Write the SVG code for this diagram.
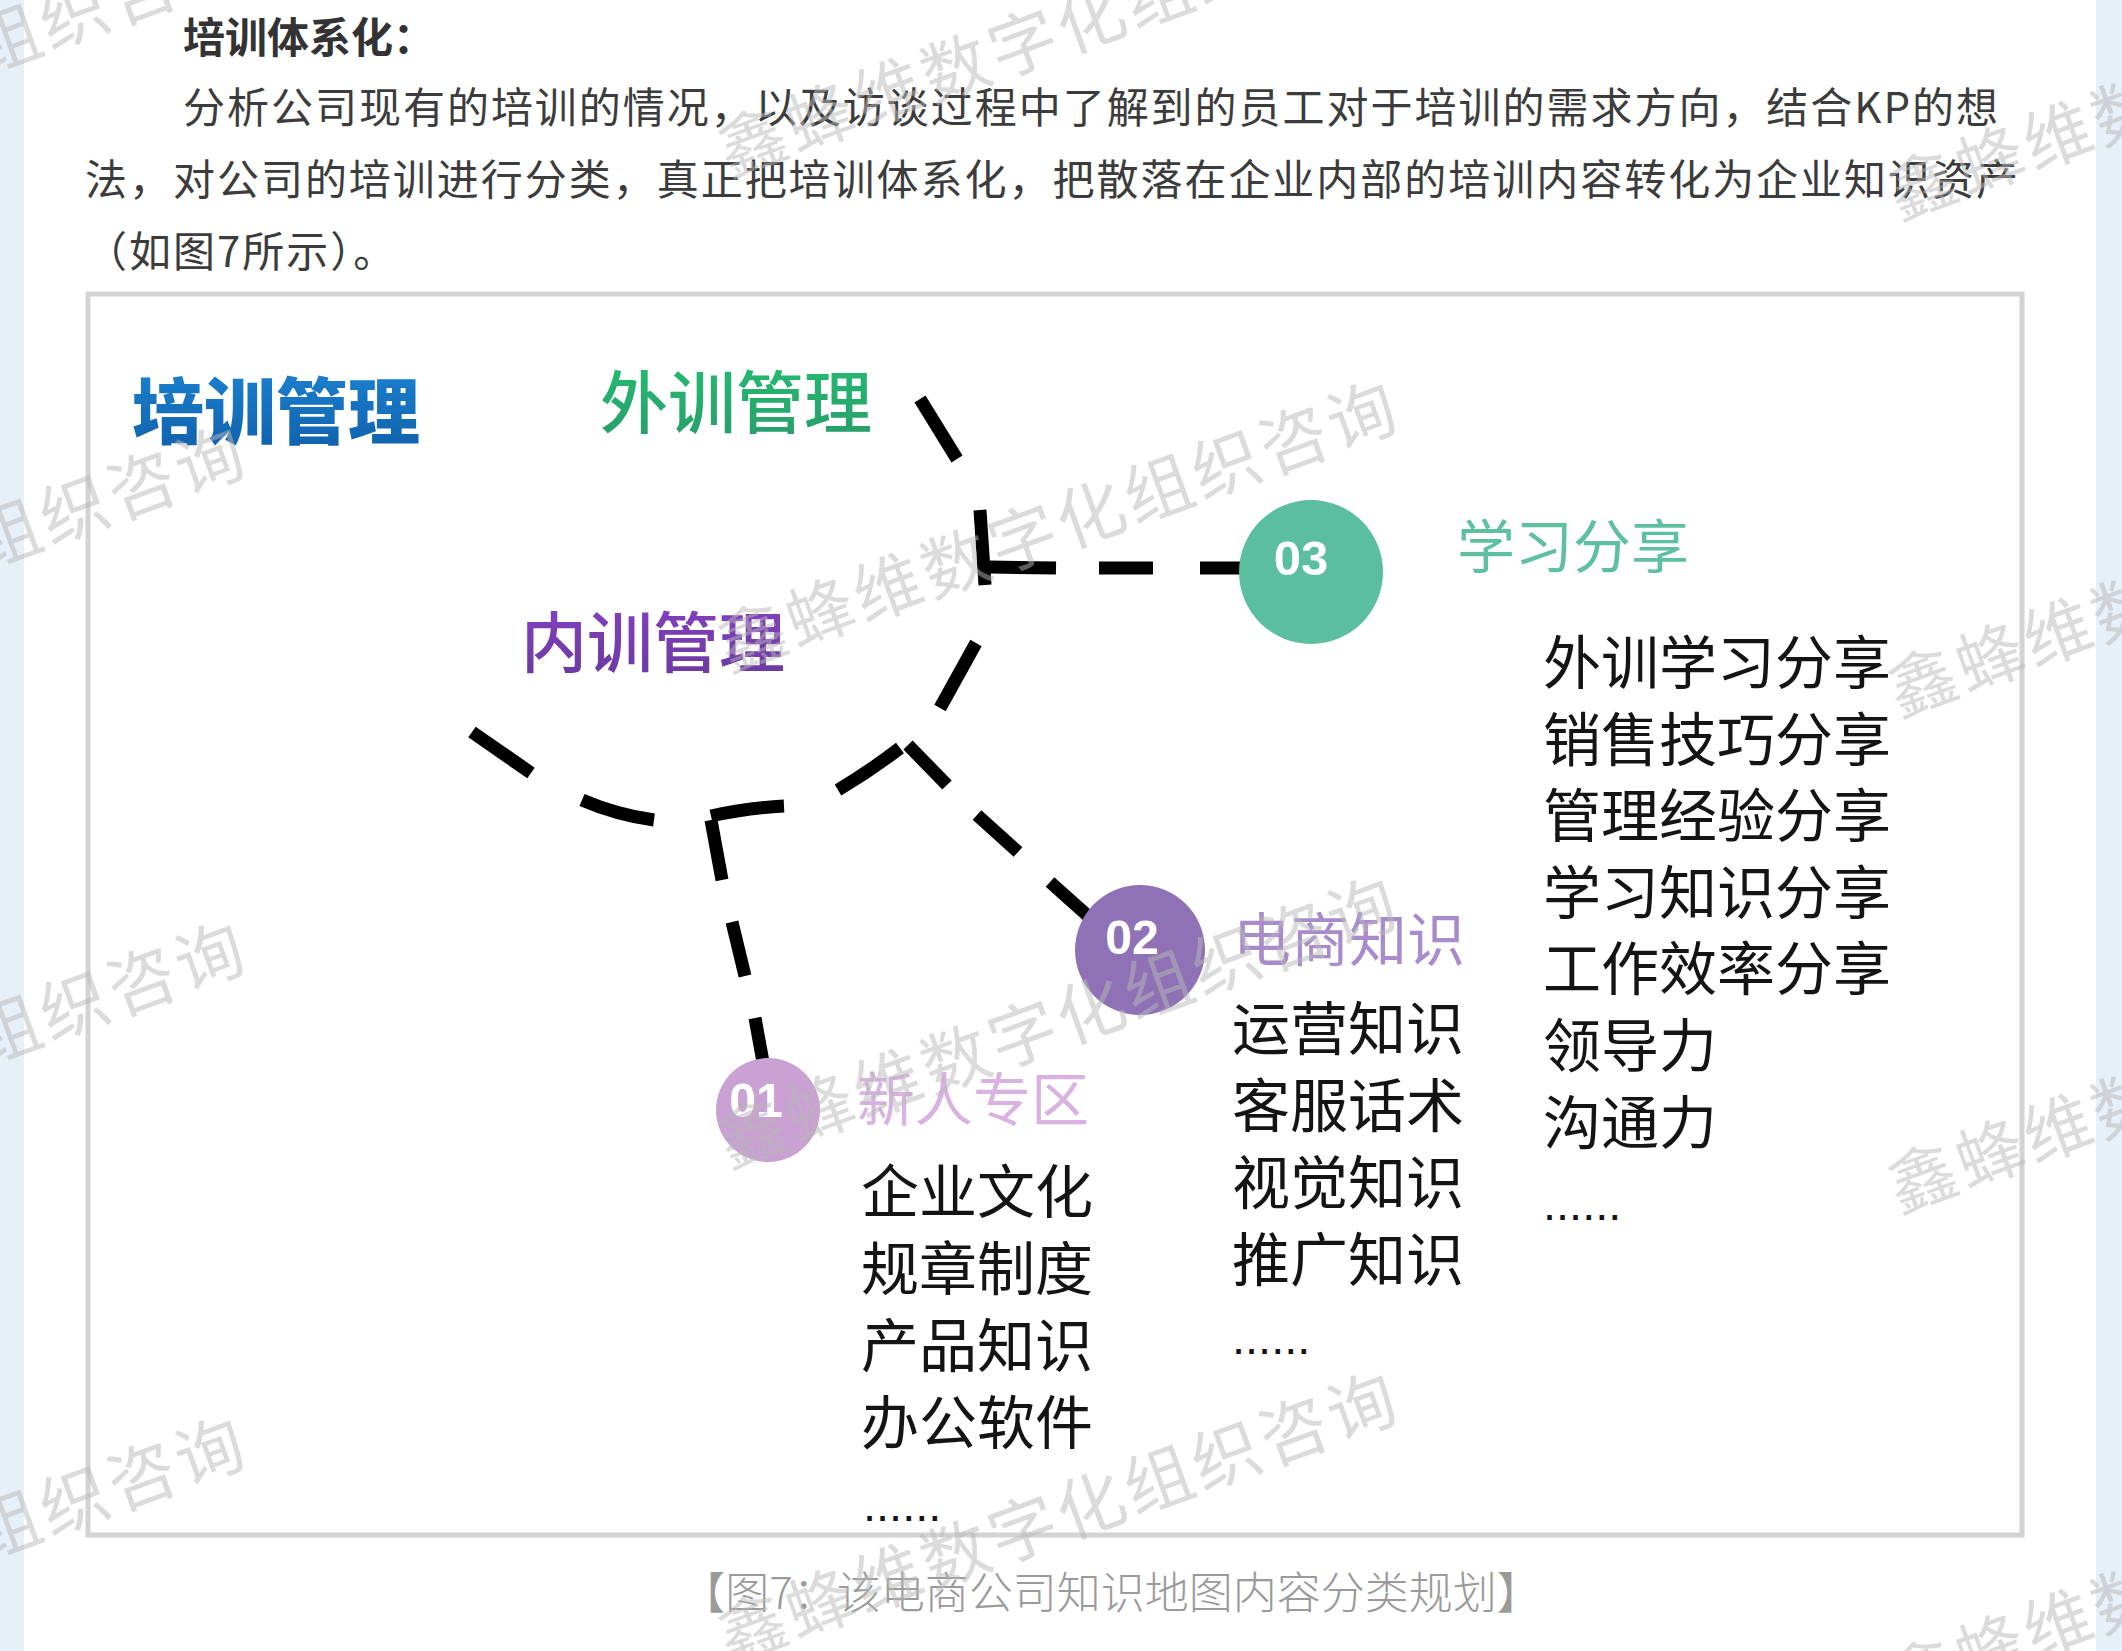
<svg xmlns="http://www.w3.org/2000/svg" width="2122" height="1651" viewBox="0 0 2122 1651">
<style>
.cjk{font-family:"Noto Sans CJK SC","Noto Sans",sans-serif}
.body{font-size:42px;fill:#3c3c3c}
.dash{fill:none;stroke:#000;stroke-width:13;stroke-linecap:butt}
.num{font-family:"Liberation Sans","DejaVu Sans",sans-serif;font-weight:700;fill:#fff;text-anchor:middle}
.item{font-size:58px;fill:#141414}
.dots{font-family:"Liberation Sans",sans-serif;font-size:47px;fill:#141414}
.wm{font-size:68px;letter-spacing:4px;fill:#b8b8b8;fill-opacity:0.5}
</style>
<defs>
<linearGradient id="gBlue" x1="0" y1="0" x2="0" y2="1"><stop offset="0" stop-color="#1d86d6"/><stop offset="1" stop-color="#0f5ea8"/></linearGradient>
<linearGradient id="gGreen" x1="0" y1="0" x2="0" y2="1"><stop offset="0" stop-color="#22c070"/><stop offset="1" stop-color="#2a9a6c"/></linearGradient>
<linearGradient id="gPurple" x1="0" y1="0" x2="0" y2="1"><stop offset="0" stop-color="#8640c4"/><stop offset="1" stop-color="#6a3a9c"/></linearGradient>
</defs>

<g id="page">
<rect x="0" y="0" width="2122" height="1651" fill="#ffffff"/>
<rect x="0" y="0" width="24" height="1651" fill="#e7eff8"/>
<rect x="2096" y="0" width="26" height="1651" fill="#e7eff8"/>
<text class="cjk" x="183" y="53" font-size="42" font-weight="700" fill="#333">培训体系化：</text>
<text class="cjk body" x="183" y="123" textLength="1815" lengthAdjust="spacing">分析公司现有的培训的情况，以及访谈过程中了解到的员工对于培训的需求方向，结合KP的想</text>
<text class="cjk body" x="85" y="195" textLength="1933" lengthAdjust="spacing">法，对公司的培训进行分类，真正把培训体系化，把散落在企业内部的培训内容转化为企业知识资产</text>
<text class="cjk body" x="85" y="267" letter-spacing="2">（如图7所示）。</text>
</g>

<g id="frame">
<rect x="88" y="294" width="1934" height="1241" fill="#ffffff" stroke="#d3d3d3" stroke-width="5"/>
</g>

<g id="connectors">
<path class="dash" d="M920,399 L957,459"/>
<path class="dash" d="M980,510 L985,585"/>
<path class="dash" d="M976,643 L940,708"/>
<path class="dash" d="M900,748 Q870,771 838,790"/>
<path class="dash" d="M784,806 Q746,808 711,816"/>
<path class="dash" d="M654,820 Q617,815 582,800"/>
<path class="dash" d="M531,773 L472,732"/>
<path class="dash" d="M990,567 L1056,568"/>
<path class="dash" d="M1099,568 L1153,568"/>
<path class="dash" d="M1200,568 L1245,568"/>
<path class="dash" d="M908,745 L947,785"/>
<path class="dash" d="M977,815 L1018,852"/>
<path class="dash" d="M1050,882 L1088,916"/>
<path class="dash" d="M711,820 L722,880"/>
<path class="dash" d="M732,922 L745,976"/>
<path class="dash" d="M755,1018 L763,1062"/>
</g>

<g id="node-peixun">
<text class="cjk" x="132" y="438" font-size="72" font-weight="900" fill="url(#gBlue)">培训管理</text>
</g>
<g id="node-waixun">
<text class="cjk" x="600" y="428" font-size="68" font-weight="500" fill="url(#gGreen)">外训管理</text>
</g>
<g id="node-neixun">
<text class="cjk" x="521" y="667" font-size="66" font-weight="500" fill="url(#gPurple)">内训管理</text>
</g>

<g id="node-03">
<circle cx="1311" cy="572" r="72" fill="#5bbf9f"/>
<text class="num" x="1301" y="575" font-size="49">03</text>
<text class="cjk" x="1457" y="568" font-size="58" fill="#5fc0a1">学习分享</text>
<text class="cjk item" x="1543" y="684">外训学习分享</text>
<text class="cjk item" x="1543" y="761">销售技巧分享</text>
<text class="cjk item" x="1543" y="837">管理经验分享</text>
<text class="cjk item" x="1543" y="914">学习知识分享</text>
<text class="cjk item" x="1543" y="990">工作效率分享</text>
<text class="cjk item" x="1543" y="1067">领导力</text>
<text class="cjk item" x="1543" y="1144">沟通力</text>
<text class="dots" x="1543" y="1220">......</text>
</g>

<g id="node-02">
<circle cx="1140" cy="950" r="65" fill="#8f72b5"/>
<text class="num" x="1132" y="954" font-size="48">02</text>
<text class="cjk" x="1233" y="961" font-size="58" fill="#a78bca">电商知识</text>
<text class="cjk item" x="1232" y="1050">运营知识</text>
<text class="cjk item" x="1232" y="1127">客服话术</text>
<text class="cjk item" x="1232" y="1204">视觉知识</text>
<text class="cjk item" x="1232" y="1281">推广知识</text>
<text class="dots" x="1232" y="1354">......</text>
</g>

<g id="node-01">
<circle cx="768" cy="1110" r="52" fill="#c9a1d3"/>
<text class="num" x="756" y="1117" font-size="48">01</text>
<text class="cjk" x="857" y="1121" font-size="58" fill="#d9b2e2">新人专区</text>
<text class="cjk item" x="861" y="1213">企业文化</text>
<text class="cjk item" x="861" y="1290">规章制度</text>
<text class="cjk item" x="861" y="1367">产品知识</text>
<text class="cjk item" x="861" y="1444">办公软件</text>
<text class="dots" x="863" y="1521">......</text>
</g>

<g id="caption">
<text class="cjk" x="1111" y="1609" font-size="44" font-weight="300" fill="#9a9a9a" text-anchor="middle">【图7：该电商公司知识地图内容分类规划】</text>
</g>

<g id="watermarks" class="cjk">
<text class="wm" transform="translate(752,141) rotate(-20)" x="-34" y="26">鑫蜂维数字化组织咨询</text>
<text class="wm" transform="translate(752,636) rotate(-20)" x="-34" y="26">鑫蜂维数字化组织咨询</text>
<text class="wm" transform="translate(752,1132) rotate(-20)" x="-34" y="26">鑫蜂维数字化组织咨询</text>
<text class="wm" transform="translate(752,1627) rotate(-20)" x="-34" y="26">鑫蜂维数字化组织咨询</text>
<text class="wm" transform="translate(1922,184) rotate(-20)" x="-34" y="26">鑫蜂维数字化组织咨询</text>
<text class="wm" transform="translate(1922,681) rotate(-20)" x="-34" y="26">鑫蜂维数字化组织咨询</text>
<text class="wm" transform="translate(1922,1177) rotate(-20)" x="-34" y="26">鑫蜂维数字化组织咨询</text>
<text class="wm" transform="translate(1922,1672) rotate(-20)" x="-34" y="26">鑫蜂维数字化组织咨询</text>
<text class="wm" transform="translate(-400,186) rotate(-20)" x="-34" y="26">鑫蜂维数字化组织咨询</text>
<text class="wm" transform="translate(-400,681) rotate(-20)" x="-34" y="26">鑫蜂维数字化组织咨询</text>
<text class="wm" transform="translate(-400,1177) rotate(-20)" x="-34" y="26">鑫蜂维数字化组织咨询</text>
<text class="wm" transform="translate(-400,1672) rotate(-20)" x="-34" y="26">鑫蜂维数字化组织咨询</text>
</g>
</svg>
